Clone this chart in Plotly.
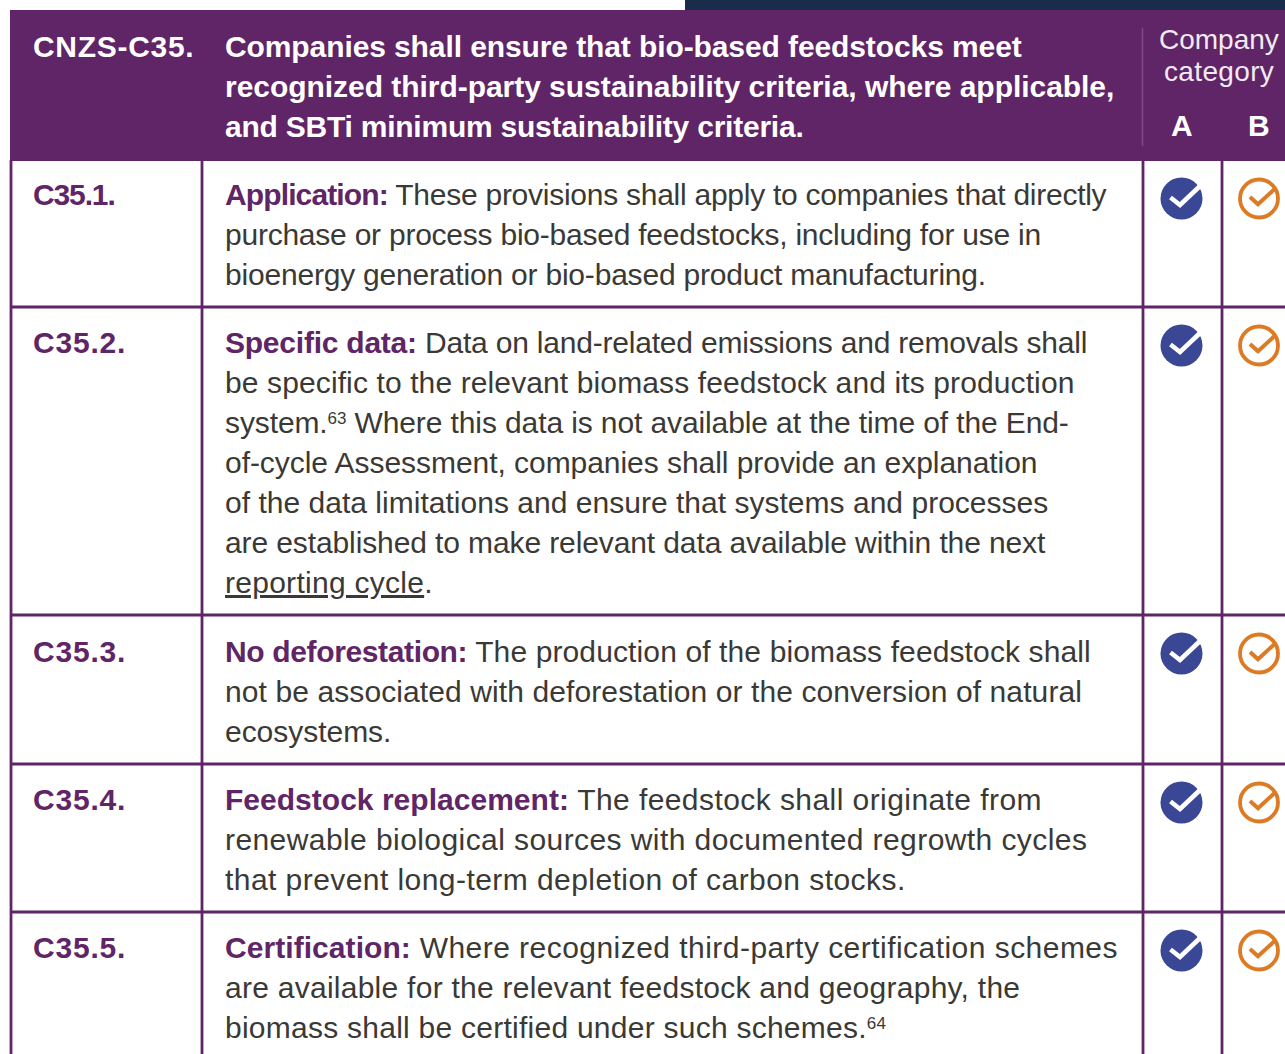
import plotly.graph_objects as go

PURPLE = "#5f2566"
INK = "#3a3935"
BLUE = "#3a4795"
ORANGE = "#dd7b25"
FONT = "Liberation Sans"

header_code = "CNZS-C35."
header_lines = [
    "Companies shall ensure that bio-based feedstocks meet",
    "recognized third-party sustainability criteria, where applicable,",
    "and SBTi minimum sustainability criteria.",
]
category_lines = ["Company", "category"]
category_letters = ["A", "B"]

row_codes = ["C35.1.", "C35.2.", "C35.3.", "C35.4.", "C35.5."]
row_titles = ["Application:", "Specific data:", "No deforestation:", "Feedstock replacement:", "Certification:"]
SUP = '<span style="font-size:17px;baseline-shift:9px">{}</span>'
UNDER = '<span style="text-decoration:underline;text-decoration-skip-ink:none">{}</span>'
row_lines = [
    ["These provisions shall apply to companies that directly",
     "purchase or process bio-based feedstocks, including for use in",
     "bioenergy generation or bio-based product manufacturing."],
    ["Data on land-related emissions and removals shall",
     "be specific to the relevant biomass feedstock and its production",
     "system." + SUP.format(63) + " Where this data is not available at the time of the End-",
     "of-cycle Assessment, companies shall provide an explanation",
     "of the data limitations and ensure that systems and processes",
     "are established to make relevant data available within the next",
     UNDER.format("reporting cycle") + "."],
    ["The production of the biomass feedstock shall",
     "not be associated with deforestation or the conversion of natural",
     "ecosystems."],
    ["The feedstock shall originate from",
     "renewable biological sources with documented regrowth cycles",
     "that prevent long-term depletion of carbon stocks."],
    ["Where recognized third-party certification schemes",
     "are available for the relevant feedstock and geography, the",
     "biomass shall be certified under such schemes." + SUP.format(64)],
]

# Layout only: row geometry and per-line tracking used to fit the text widths
row_first_line = [194, 342, 651, 799, 947]
row_bottoms = [307, 615, 764, 912]
icon_centres = [198.5, 345.5, 653.5, 802.5, 950.5]
LINE_STEP = 40
header_code_track = 0.7
header_track = [-0.1, -0.04, -0.23]
code_track = [-1.13, 0.8, 0.8, 0.8, 0.8]
title_track = [-0.88, -0.23, -0.36, 0.02, 0.06]
category_track = [0.0, 0.35]
line_track = [
    [-0.26, -0.235, -0.2],
    [-0.2, 0.115, -0.11, -0.05, 0.02, -0.11, 0.27],
    [0.12, 0.1, -0.03],
    [0.43, 0.42, 0.44],
    [0.46, 0.26, 0.25],
]

fig = go.Figure()

shapes = [
    dict(type="rect", x0=685, x1=1285, y0=0, y1=10, fillcolor="#1b2b4b", line_width=0, layer="below"),
    dict(type="rect", x0=10, x1=1285, y0=10, y1=161, fillcolor=PURPLE, line_width=0, layer="below"),
    dict(type="line", x0=1142.5, x1=1142.5, y0=28, y1=146, line=dict(color="#7d4c85", width=1.5)),
]
for x in (11, 202, 1143, 1222):
    shapes.append(dict(type="line", x0=x, x1=x, y0=160, y1=1054, line=dict(color=PURPLE, width=2.8)))
for y in row_bottoms:
    shapes.append(dict(type="line", x0=10, x1=1285, y0=y, y1=y, line=dict(color=PURPLE, width=2.8)))
fig.update_layout(shapes=shapes)


def label(x, y, text, size=30, color=INK, bold=False, anchor="left", spacing=None):
    body = f"<b>{text}</b>" if bold else text
    if spacing is not None:
        body = f'<span style="letter-spacing:{spacing}px">{body}</span>'
    fig.add_annotation(x=x, y=y, text=body, showarrow=False, xanchor=anchor, yanchor="middle",
                       align=anchor, font=dict(family=FONT, size=size, color=color), borderpad=0, borderwidth=0)


label(33, 46, header_code, color="white", bold=True, spacing=header_code_track)
for i, line in enumerate(header_lines):
    label(225, 46 + i * LINE_STEP, line, color="white", bold=True, spacing=header_track[i])
for i, line in enumerate(category_lines):
    label(1218.5, 39 + i * 32, line, size=28, color="#f2ebf3", anchor="center", spacing=category_track[i])
for x, letter in zip((1182, 1259), category_letters):
    label(x, 125.5, letter, color="white", bold=True, anchor="center")

for r, (code, title, lines, y0) in enumerate(zip(row_codes, row_titles, row_lines, row_first_line)):
    label(33, y0, code, color=PURPLE, bold=True, spacing=code_track[r])
    for i, line in enumerate(lines):
        text = line
        if i == 0:
            text = (f'<span style="color:{PURPLE};letter-spacing:{title_track[r]}px"><b>{title}</b></span>'
                    f' {line}')
        label(225, y0 + i * LINE_STEP, text, spacing=line_track[r][i])

A_X, B_X = 1181.5, 1259
fig.add_trace(go.Scatter(x=[A_X] * len(icon_centres), y=icon_centres, mode="markers", hoverinfo="skip",
                         marker=dict(symbol="circle", size=42, color=BLUE, line_width=0)))
fig.add_trace(go.Scatter(x=[B_X] * len(icon_centres), y=icon_centres, mode="markers", hoverinfo="skip",
                         marker=dict(symbol="circle-open", size=38, color=ORANGE, line=dict(width=3.8, color=ORANGE))))
check_a = [(-11, -1), (-1.5, 6.5), (18, -12)]
check_b = [(-9, -1.5), (-1, 5.8), (15, -9)]
for cx, tick, color, width in ((A_X, check_a, "white", 4.6), (B_X, check_b, ORANGE, 4)):
    xs, ys = [], []
    for cy in icon_centres:
        xs += [cx + dx for dx, _ in tick] + [None]
        ys += [cy + dy for _, dy in tick] + [None]
    fig.add_trace(go.Scatter(x=xs, y=ys, mode="lines", hoverinfo="skip",
                             line=dict(color=color, width=width)))

fig.update_layout(
    width=1285, height=1054, margin=dict(l=0, r=0, t=0, b=0),
    paper_bgcolor="white", plot_bgcolor="white", showlegend=False,
    xaxis=dict(range=[0, 1285], visible=False, fixedrange=True),
    yaxis=dict(range=[1054, 0], visible=False, fixedrange=True),
)
fig.write_html("out.html", post_script="document.body.style.margin='0';document.body.style.overflow='hidden';",
               config=dict(displayModeBar=False))
